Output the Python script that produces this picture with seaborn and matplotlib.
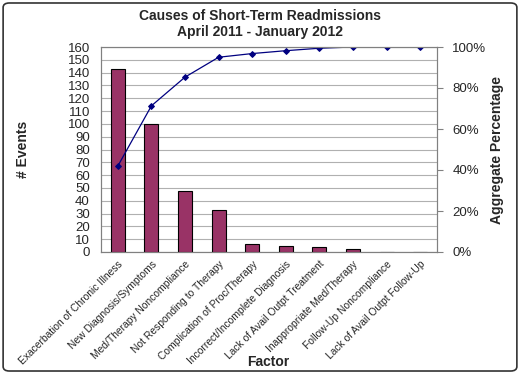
import matplotlib
matplotlib.use("Agg")
import matplotlib.pyplot as plt
import seaborn as sns
import numpy as np
import pandas as pd
from matplotlib.patches import FancyBboxPatch
from matplotlib.ticker import FuncFormatter, MultipleLocator, FixedLocator

factors = ["Exacerbation of Chronic Illness", "New Diagnosis/Symptoms",
           "Med/Therapy Noncompliance", "Not Responding to Therapy",
           "Complication of Proc/Therapy", "Incorrect/Incomplete Diagnosis",
           "Lack of Avail Outpt Treatment", "Inappropriate Med/Therapy",
           "Follow-Up Noncompliance", "Lack of Avail Outpt Follow-Up"]
events = [143, 100, 48, 33, 6, 5, 4, 2, 0, 0]
aggregate_pct = [41.9, 71.3, 85.3, 95.0, 96.8, 98.2, 99.4, 100, 100, 100]

df = pd.DataFrame({"Factor": factors, "Events": events, "Pct": aggregate_pct})

sns.set_style("white")
plt.rcParams["font.family"] = ["Liberation Sans", "DejaVu Sans"]

W, H = 520, 374
fig = plt.figure(figsize=(5.2, 3.74), dpi=100)
ax = fig.add_axes([101 / W, 1 - 252 / H, 336 / W, 205 / H])

sns.barplot(data=df, x="Factor", y="Events", color="#993366", width=0.42,
            edgecolor="black", linewidth=0.8, saturation=1, ax=ax, zorder=3)
ax.set_ylim(0, 160)
ax.set_xlim(-0.5, len(factors) - 0.5)
ax.yaxis.set_major_locator(MultipleLocator(10))
ax.grid(axis="y", color="#b0b0b0", linewidth=0.8, zorder=0)
ax.set_axisbelow(True)
for s in ax.spines.values():
    s.set_color("#808080")
    s.set_linewidth(0.8)
ax.tick_params(axis="y", labelsize=9.5, length=0, pad=8)
ax.set_xticks(range(len(factors)))
ax.set_xticklabels(factors, rotation=45, ha="right", rotation_mode="anchor", fontsize=7.4)
ax.tick_params(axis="x", length=0, pad=5)
ax.xaxis.set_minor_locator(FixedLocator(np.arange(-0.5, len(factors), 1.0)))
ax.tick_params(axis="x", which="minor", length=4, color="#808080", direction="out")
ax.set_xlabel("")
ax.set_ylabel("# Events", fontsize=10, fontweight="bold")
ax.yaxis.set_label_coords((30 - 101) / 336, 0.5)
fig.text(268 / W, 1 - 362 / H, "Factor", fontsize=10, fontweight="bold",
         ha="center", va="center")

ax2 = ax.twinx()
sns.lineplot(data=df, x="Factor", y="Pct", color="#000080", marker="D",
             markersize=3, linewidth=0.9, markeredgecolor="#000080", ax=ax2, sort=False)
ax2.set_ylim(0, 100)
ax2.yaxis.set_major_locator(MultipleLocator(20))
ax2.yaxis.set_major_formatter(FuncFormatter(lambda v, p: f"{int(v)}%"))
ax2.tick_params(axis="y", labelsize=9.5, length=4, color="#808080", direction="out", pad=7)
ax2.set_ylabel("Aggregate Percentage", fontsize=10, fontweight="bold")
ax2.yaxis.set_label_coords((490 - 101) / 336, 0.5)
ax2.set_xlabel("")
for s in ax2.spines.values():
    s.set_color("#808080")
    s.set_linewidth(0.8)

fig.suptitle("Causes of Short-Term Readmissions\nApril 2011 - January 2012",
             fontsize=10, fontweight="bold", y=0.975, linespacing=1.15)

border = FancyBboxPatch((0.006, 0.008), 0.988, 0.984, boxstyle="round,pad=0,rounding_size=0.012",
                        transform=fig.transFigure, fill=False, edgecolor="#333333",
                        linewidth=1.2)
fig.patches.append(border)

fig.savefig("out.png", dpi=100)
